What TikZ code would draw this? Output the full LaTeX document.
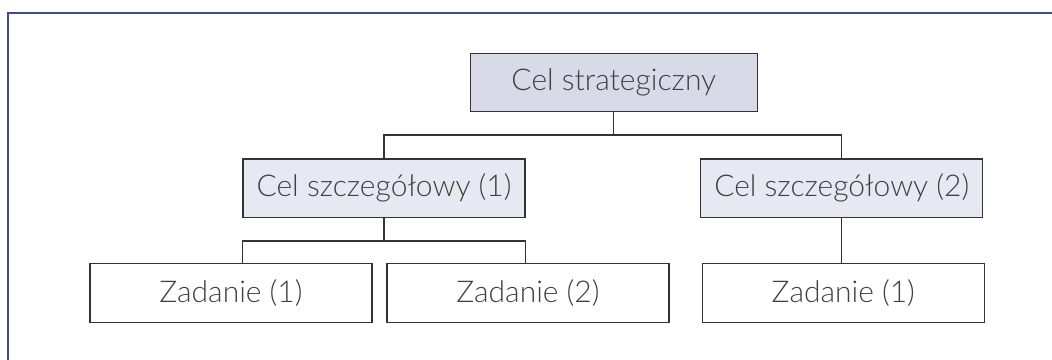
\documentclass[tikz,border=0pt]{standalone}
\usepackage{fontspec}
\setmainfont{Lato Light}
\begin{document}
\begin{tikzpicture}[x=0.75pt,y=-0.75pt,
  every node/.style={font=\fontsize{22.5}{25}\selectfont, text=txtcol},
  box/.style={draw=boxline, line width=1pt, rectangle, minimum width=282*0.75pt, minimum height=58.5*0.75pt, inner sep=0pt},
  goalbox/.style={box, fill=goalfill},
  topbox/.style={box, fill=topfill, minimum width=287*0.75pt},
  conn/.style={draw=boxline, line width=1pt}]
\definecolor{boxline}{HTML}{333333}
\definecolor{txtcol}{HTML}{404040}
\definecolor{goalfill}{HTML}{E8E8F2}
\definecolor{topfill}{HTML}{D9DAE7}
\definecolor{framecol}{HTML}{3D4B8F}
\useasboundingbox (0,0) rectangle (1052,360);
\clip (0,0) rectangle (1052,360);
\draw[framecol, line width=2*0.75pt] (8,380) -- (8,12.7) -- (1080,12.7);
\node[topbox] (top) at (613.8,82.5) {Cel strategiczny};
\node[goalbox] (c1) at (384,188.3) {Cel szczegółowy (1)};
\node[goalbox] (c2) at (841.7,188.3) {Cel szczegółowy (2)};
\node[box] (z1) at (231,293) {Zadanie (1)};
\node[box] (z2) at (528,293) {Zadanie (2)};
\node[box] (z3) at (843.3,293) {Zadanie (1)};
\coordinate (j1) at (611,135);
\coordinate (j2) at (382,241);
\draw[conn] (top.south) -- (top.south |- j1);
\draw[conn] (c1.north) |- (j1) -| (c2.north);
\draw[conn] (c1.south) -- (c1.south |- j2);
\draw[conn] (z1.north -| c1.south west) |- (j2) -| (z2.north -| c1.south east);
\draw[conn] (c2.south) -- (z3.north -| c2.south);
\end{tikzpicture}
\end{document}
